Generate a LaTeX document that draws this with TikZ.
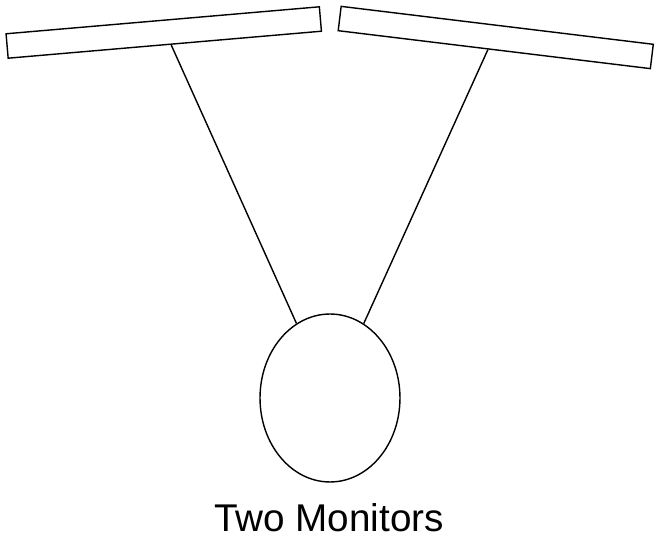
\documentclass[tikz,border=0pt]{standalone}
\usepackage{fontspec}
\setmainfont{Liberation Sans}
\usetikzlibrary{shapes.geometric, calc}

\tikzset{
  monitor/.style={draw, rectangle, inner sep=0pt, minimum width=6.29cm, minimum height=0.49cm},
  head/.style={draw, ellipse, inner sep=0pt, minimum width=2.8cm, minimum height=3.36cm},
  sightline/.style={line width=0.8pt}
}

\begin{document}
\begin{tikzpicture}[x=0.02cm, y=-0.02cm, line width=0.8pt]
    \useasboundingbox (0,0) rectangle (660,557);
    \node[monitor, rotate=4.92] (lmon) at (163.75,32.5) {};
    \node[monitor, rotate=-6.93] (rmon) at (495.75,37.5) {};
    \node[head] (head) at (330,398) {};
    \node[anchor=base, font=\fontsize{22}{26}\selectfont] (caption) at (329,532) {Two Monitors};
    \draw[sightline] ($(lmon.south west)!0.52!(lmon.south east)$) -- (head);
    \draw[sightline] ($(rmon.south west)!0.48!(rmon.south east)$) -- (head);
  \end{tikzpicture}
\end{document}
